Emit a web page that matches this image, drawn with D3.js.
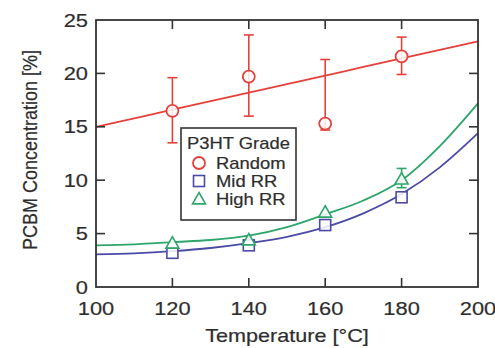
<!DOCTYPE html>
<html><head><meta charset="utf-8">
<script src="https://cdn.jsdelivr.net/npm/d3@7"></script>
<style>body{margin:0;background:#fff}svg text{font-family:"Liberation Sans",Arial,sans-serif;fill:#2e2e2e;stroke:#2e2e2e;stroke-width:0.2}</style>
</head><body><svg id="c" width="495" height="348"></svg>
<script>
const xTicks = [100, 120, 140, 160, 180, 200];
const yTicks = [0, 5, 10, 15, 20, 25];
const temps = [120, 140, 160, 180];
const randomVals = [16.5, 19.7, 15.3, 21.6];
const randomLow = [13.5, 16.0, 14.7, 19.9];
const randomHigh = [19.6, 23.6, 21.3, 23.4];
const midVals = [3.2, 3.9, 5.8, 8.4];
const highVals = [4.1, 4.4, 7.0, 10.1];
const highLow = [null, null, null, 9.3];
const highHigh = [null, null, null, 11.1];
const fitT = [100, 110, 120, 130, 140, 150, 160, 170, 180, 190, 200];
const fitRandom = [15.0, 15.8, 16.6, 17.4, 18.2, 19.0, 19.8, 20.6, 21.4, 22.2, 23.0];
const fitMid = [3.05, 3.15, 3.35, 3.65, 4.1, 4.7, 5.6, 6.9, 8.7, 11.2, 14.4];
const fitHigh = [3.9, 4.0, 4.2, 4.4, 4.8, 5.6, 6.8, 8.1, 10.0, 13.2, 17.2];
const legendTitle = "P3HT Grade";
const legendLabels = ["Random", "Mid RR", "High RR"];
const colors = {red: "#e5413b", blue: "#4b4aa6", green: "#2fa56b"};

const svg = d3.select("#c");
const L = 96, R = 478, T = 20, B = 287;
const x = d3.scaleLinear().domain([100, 200]).range([L, R]);
const y = d3.scaleLinear().domain([0, 25]).range([B, T]);
const axisCol = "#333";

function txt(sel, px, py, s, size, anchor, sx) {
  return sel.append("text").attr("transform", `translate(${px},${py}) scale(${sx},1)`)
    .attr("text-anchor", anchor).attr("font-size", size).text(s);
}

// fits
const line = d3.line().x(d => x(d[0])).y(d => y(d[1])).curve(d3.curveMonotoneX);
const g = svg.append("g");
g.append("path").datum(fitT.map((t, i) => [t, fitRandom[i]])).attr("d", line)
  .attr("fill", "none").attr("stroke", colors.red).attr("stroke-width", 1.8);
g.append("path").datum(fitT.map((t, i) => [t, fitMid[i]])).attr("d", line)
  .attr("fill", "none").attr("stroke", colors.blue).attr("stroke-width", 1.8);
g.append("path").datum(fitT.map((t, i) => [t, fitHigh[i]])).attr("d", line)
  .attr("fill", "none").attr("stroke", colors.green).attr("stroke-width", 1.8);

// error bars
function errBars(lo, hi, col) {
  temps.forEach((t, i) => {
    if (lo[i] == null) return;
    const cx = x(t);
    g.append("line").attr("x1", cx).attr("x2", cx).attr("y1", y(lo[i])).attr("y2", y(hi[i])).attr("stroke", col).attr("stroke-width", 1.6);
    [lo[i], hi[i]].forEach(v => g.append("line").attr("x1", cx - 5).attr("x2", cx + 5).attr("y1", y(v)).attr("y2", y(v)).attr("stroke", col).attr("stroke-width", 1.6));
  });
}
errBars(randomLow, randomHigh, colors.red);
errBars(highLow, highHigh, colors.green);

// markers
function circle(sel, cx, cy) {
  sel.append("circle").attr("cx", cx).attr("cy", cy).attr("r", 6).attr("fill", "#fff").attr("fill-opacity", 0.85).attr("stroke", colors.red).attr("stroke-width", 1.8);
}
function square(sel, cx, cy) {
  sel.append("rect").attr("x", cx - 5.5).attr("y", cy - 5.5).attr("width", 11).attr("height", 11).attr("fill", "#fff").attr("fill-opacity", 0.85).attr("stroke", colors.blue).attr("stroke-width", 1.6);
}
function tri(sel, cx, cy) {
  const s = 6.5;
  sel.append("path").attr("d", `M${cx},${cy - s}L${cx + s},${cy + s * 0.75}L${cx - s},${cy + s * 0.75}Z`)
    .attr("fill", "#fff").attr("fill-opacity", 0.85).attr("stroke", colors.green).attr("stroke-width", 1.6);
}
temps.forEach((t, i) => square(g, x(t), y(midVals[i])));
temps.forEach((t, i) => tri(g, x(t), y(highVals[i])));
temps.forEach((t, i) => circle(g, x(t), y(randomVals[i])));

// frame & ticks
const ax = svg.append("g");
ax.append("rect").attr("x", L).attr("y", T).attr("width", R - L).attr("height", B - T).attr("fill", "none").attr("stroke", axisCol).attr("stroke-width", 1.8);
const tl = 9;
xTicks.slice(1, -1).forEach(t => {
  ax.append("line").attr("x1", x(t)).attr("x2", x(t)).attr("y1", B).attr("y2", B - tl).attr("stroke", axisCol).attr("stroke-width", 1.6);
  ax.append("line").attr("x1", x(t)).attr("x2", x(t)).attr("y1", T).attr("y2", T + tl).attr("stroke", axisCol).attr("stroke-width", 1.6);
});
yTicks.slice(1, -1).forEach(v => {
  ax.append("line").attr("x1", L).attr("x2", L + tl).attr("y1", y(v)).attr("y2", y(v)).attr("stroke", axisCol).attr("stroke-width", 1.6);
  ax.append("line").attr("x1", R).attr("x2", R - tl).attr("y1", y(v)).attr("y2", y(v)).attr("stroke", axisCol).attr("stroke-width", 1.6);
});
xTicks.forEach(t => txt(ax, x(t), 315, t, 19, "middle", 1.15));
yTicks.forEach(v => txt(ax, L - 8, y(v) + 6.5, v, 19, "end", 1.15));
txt(ax, 287, 342, "Temperature [°C]", 18, "middle", 1.2);
ax.append("text").attr("transform", "translate(37,150) rotate(-90) scale(1,1.15)").attr("text-anchor", "middle").attr("font-size", 18).text("PCBM Concentration [%]");

// legend
const lg = svg.append("g");
lg.append("rect").attr("x", 181).attr("y", 128).attr("width", 115).attr("height", 92).attr("fill", "#fff").attr("stroke", axisCol).attr("stroke-width", 1.6);
txt(lg, 187, 149, legendTitle, 16, "start", 1.15);
const ly = [163, 181, 199];
circle(lg, 199, ly[0]); square(lg, 199, ly[1]); tri(lg, 199, ly[2]);
legendLabels.forEach((s, i) => txt(lg, 216, ly[i] + 6, s, 16, "start", 1.15));
</script></body></html>
